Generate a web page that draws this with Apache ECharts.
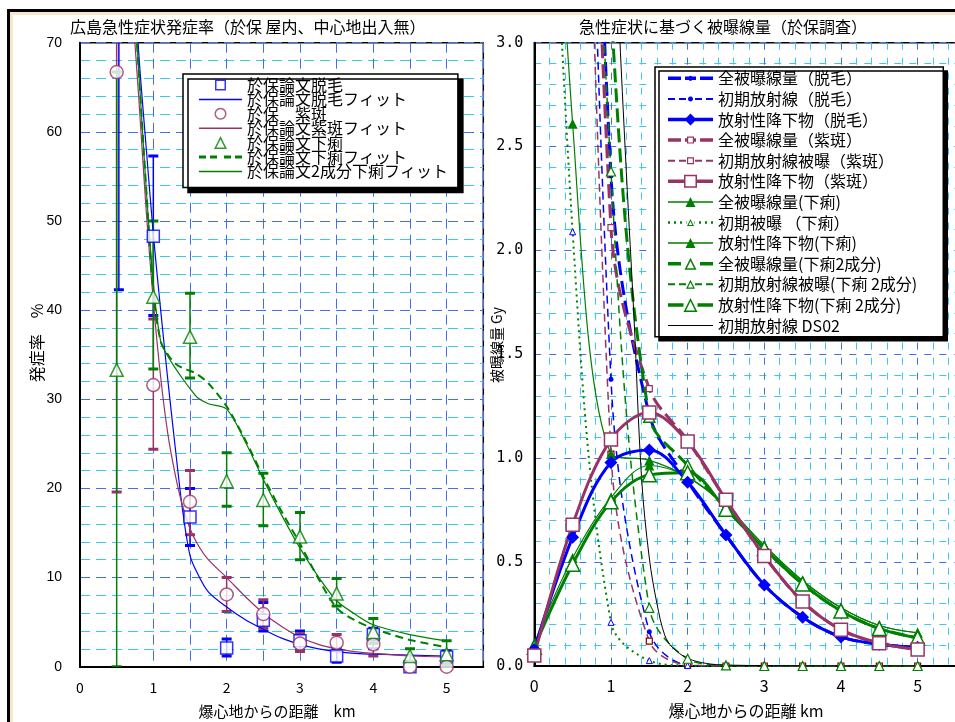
<!DOCTYPE html>
<html>
<head>
<meta charset="utf-8">
<script src="https://cdn.jsdelivr.net/npm/echarts@6/dist/echarts.min.js"></script>
<style>
html, body { margin: 0; padding: 0; background: #fff; }
#chart { width: 955px; height: 722px; }
</style>
</head>
<body>
<div id="chart"></div>
<script>
// ===== Left panel: incidence of acute symptoms (%) vs distance (km) =====
// Epilation (脱毛)
const hairX    = [0.53, 1.0, 1.5, 2.0, 2.5, 3.0, 3.5, 4.0, 4.5, 5.0];
const hairRate = [100, 48.3, 16.8, 2.1, 5.2, 2.9, 1.2, 3.6, 0, 1.1];
const hairLow  = [42.3, 39.4, 13.6, 1.2, 4.0, 1.8, 0.5, 2.0, null, 0.3];
const hairHigh = [100, 57.3, 20.0, 3.1, 7.2, 4.0, 2.0, 4.3, null, 1.8];
// Purpura (紫斑)
const purpX    = [0.5, 1.0, 1.5, 2.0, 2.5, 3.0, 3.5, 4.0, 4.5, 5.0];
const purpRate = [66.7, 31.6, 18.5, 8.1, 5.9, 2.6, 2.7, 2.5, 0, 0];
const purpLow  = [19.6, 24.4, 14.8, 6.2, 4.3, 1.7, 1.8, 1.2, null, null];
const purpHigh = [100, 39.0, 22.0, 10.0, 7.5, 3.7, 3.6, 3.0, null, null];
// Diarrhoea (下痢)
const diaX     = [0.5, 1.0, 1.5, 2.0, 2.5, 3.0, 3.5, 4.0, 4.5, 5.0];
const diaRate  = [33.3, 41.5, 37.0, 20.8, 18.7, 14.6, 8.2, 3.9, 1.2, 1.4];
const diaLow   = [0, 33.4, 32.4, 18.0, 15.8, 12.0, 6.8, 2.6, 0.6, 0.3];
const diaHigh  = [66.7, 50.0, 41.9, 24.0, 21.7, 17.3, 9.9, 5.4, 2.0, 2.9];
// fitted curves
const fitX     = [0.6, 0.7, 0.8, 0.9, 1.0, 1.1, 1.2, 1.3, 1.4, 1.5, 1.6, 1.75, 2.0, 2.25, 2.5, 2.75, 3.0, 3.25, 3.5, 3.75, 4.0, 4.5, 5.0];
const hairFit  = [96, 84, 69, 58.5, 48.5, 40, 32, 24.5, 17.5, 12.5, 10.5, 8.4, 6.7, 5.3, 4.2, 3.2, 2.5, 2.0, 1.7, 1.5, 1.4, 1.3, 1.2];
const purpFit  = [92, 76, 64, 51.5, 41, 32.5, 26, 21.5, 18, 15.5, 13.8, 12, 10, 7.9, 6.0, 4.5, 3.3, 2.5, 2.0, 1.7, 1.5, 1.2, 1.1];
const diaFit   = [99, 80, 67, 54, 42, 36.5, 35, 34, 33.5, 33.2, 32.8, 31.8, 29.2, 25.5, 21.3, 17.4, 13.8, 9.9, 6.6, 5.2, 4.3, 3.0, 2.2];
const dia2Fit  = [99, 80, 67, 54, 43, 36.5, 34.8, 33.5, 32.3, 31.2, 30.2, 29.5, 28.9, 25.3, 21.0, 17.0, 13.3, 10.1, 7.4, 5.9, 4.7, 3.6, 2.9];

// ===== Right panel: dose (Gy) estimated from symptoms =====
const doseX = [0, 0.5, 1.0, 1.5, 2.0, 2.5, 3.0, 3.5, 4.0, 4.5, 5.0];
const hairTotal   = [null, 8.2, 2.36, 1.21, 0.89, 0.63, 0.39, 0.235, 0.14, 0.105, 0.09];
const hairInit    = [null, 7.6, 1.38, 0.165, 0.005, 0, 0, 0, 0, 0, 0];
const hairFall    = [0.08, 0.62, 0.98, 1.04, 0.885, 0.63, 0.39, 0.235, 0.14, 0.105, 0.09];
const purpTotal   = [null, 7.9, 2.11, 1.335, 1.085, 0.80, 0.53, 0.31, 0.175, 0.11, 0.08];
const purpInit    = [null, 7.2, 1.02, 0.12, 0.005, 0, 0, 0, 0, 0, 0];
const purpFall    = [0.05, 0.68, 1.09, 1.22, 1.08, 0.80, 0.53, 0.31, 0.175, 0.11, 0.08];
const diaTotal    = [6.1, 2.61, 1.02, 0.99, 0.91, 0.77, 0.58, 0.41, 0.28, 0.195, 0.16];
const diaInit     = [6.0, 2.09, 0.21, 0.026, 0.002, 0, 0, 0, 0, 0, 0];
const diaFall     = [0.11, 0.52, 0.81, 0.965, 0.91, 0.77, 0.58, 0.41, 0.28, 0.195, 0.16];
const dia2Total   = [null, 7.3, 3.17, 1.20, 0.965, 0.76, 0.565, 0.395, 0.265, 0.18, 0.135];
const dia2Init    = [null, 6.8, 2.38, 0.28, 0.035, 0.003, 0, 0, 0, 0, 0];
const dia2Fall    = [0.09, 0.49, 0.79, 0.92, 0.93, 0.755, 0.565, 0.395, 0.265, 0.18, 0.135];
// DS02 initial radiation
const ds02X = [1.0, 1.1, 1.2, 1.3, 1.4, 1.5, 1.6, 1.7, 1.8, 2.0, 2.25, 2.5, 3.0, 4.0, 5.0];
const ds02Y = [4.1, 3.15, 2.38, 1.68, 0.9, 0.52, 0.3, 0.15, 0.09, 0.037, 0.012, 0.005, 0.002, 0, 0];

const JP = '"Noto Sans CJK JP", "Noto Sans CJK SC", sans-serif';
const BLUE = '#0000ff', PURP = '#993366', GREEN = '#008000';
const GRID_MAJOR = '#3f6ff0', GRID_MINOR = '#3cc8f5';

function pairs(xs, ys) {
  return xs.map((x, i) => [x, ys[i]]).filter(d => d[1] != null);
}

// ----- legend icon paths (outer shapes clockwise, holes counter-clockwise) -----
function rectCW(x0, y0, x1, y1) { return `M${x0} ${y0}L${x1} ${y0}L${x1} ${y1}L${x0} ${y1}Z`; }
function rectCCW(x0, y0, x1, y1) { return `M${x0} ${y0}L${x0} ${y1}L${x1} ${y1}L${x1} ${y0}Z`; }
function poly(pts) { return 'M' + pts.map(p => p[0].toFixed(2) + ' ' + p[1].toFixed(2)).join('L') + 'Z'; }
function circlePts(cx, cy, r, ccw) {
  const pts = [];
  for (let i = 0; i < 24; i++) {
    const a = (ccw ? -1 : 1) * i * Math.PI / 12;
    pts.push([cx + r * Math.cos(a), cy + r * Math.sin(a)]);
  }
  return pts;
}
function legendIcon(W, o) {
  const H = 14, cy = 7, cx = W / 2;
  let p = `M0 0M${W} ${H}`;
  if (o.t) {
    const lim = cx - (o.gap || 0);
    const segs = [];
    if (!o.dash) segs.push([0, lim]);
    else for (let s = 0; s < lim; s += o.dash[0] + o.dash[1]) segs.push([s, Math.min(s + o.dash[0], lim)]);
    segs.forEach(([a, b]) => {
      p += rectCW(a, cy - o.t / 2, b, cy + o.t / 2) + rectCW(W - b, cy - o.t / 2, W - a, cy + o.t / 2);
    });
  }
  const m = o.m;
  if (m) {
    const s = m.s, b = m.b;
    if (m.shape === 'dot') p += poly(circlePts(cx, cy, s));
    if (m.shape === 'dia') p += poly([[cx, cy - s], [cx + s, cy], [cx, cy + s], [cx - s, cy]]);
    if (m.shape === 'tri') {
      p += poly([[cx, cy - s], [cx + s, cy + s], [cx - s, cy + s]]);
      if (b) p += poly([[cx, cy - s + 2.236 * b], [cx - s + 1.618 * b, cy + s - b], [cx + s - 1.618 * b, cy + s - b]]);
    }
    if (m.shape === 'sq') {
      p += rectCW(cx - s, cy - s, cx + s, cy + s);
      if (b) p += rectCCW(cx - s + b, cy - s + b, cx + s - b, cy + s - b);
    }
    if (m.shape === 'circ') {
      p += poly(circlePts(cx, cy, s));
      if (b) p += poly(circlePts(cx, cy, s - b, true));
    }
  }
  return 'path://' + p;
}

// ----- error bars for the observed incidences -----
function errorBars(name, color, xs, lo, hi) {
  return {
    type: 'custom', name: name + '誤差', xAxisIndex: 0, yAxisIndex: 0, clip: true, z: 3,
    data: xs.map((x, i) => [x, lo[i], hi[i]]).filter(d => d[1] != null),
    encode: { x: 0, y: [1, 2] },
    renderItem: function (params, api) {
      const x = api.value(0);
      const a = api.coord([x, api.value(1)]);
      const b = api.coord([x, api.value(2)]);
      const w = 5;
      return {
        type: 'group',
        children: [
          { type: 'line', shape: { x1: a[0], y1: a[1], x2: b[0], y2: b[1] }, style: { stroke: color, lineWidth: 1.5 } },
          { type: 'line', shape: { x1: a[0] - w, y1: a[1], x2: a[0] + w, y2: a[1] }, style: { stroke: color, lineWidth: 3 } },
          { type: 'line', shape: { x1: b[0] - w, y1: b[1], x2: b[0] + w, y2: b[1] }, style: { stroke: color, lineWidth: 3 } }
        ]
      };
    }
  };
}

function obsSeries(name, symbol, size, color, xs, ys) {
  return {
    type: 'scatter', name: name, xAxisIndex: 0, yAxisIndex: 0, z: 4,
    symbol: symbol, symbolSize: size,
    itemStyle: { color: '#fff', borderColor: color, borderWidth: 1.5 },
    data: pairs(xs, ys)
  };
}
function fitSeries(name, color, width, type, ys) {
  return {
    type: 'line', name: name, xAxisIndex: 0, yAxisIndex: 0, z: 3,
    showSymbol: false, symbol: 'none', smooth: 0.3, clip: true,
    itemStyle: { color: color },
    lineStyle: { color: color, width: width, type: type },
    data: pairs(fitX, ys)
  };
}
function doseSeries(name, o) {
  return {
    type: 'line', name: name, xAxisIndex: 1, yAxisIndex: 1, clip: true,
    smooth: 0.35, showAllSymbol: true,
    symbol: o.symbol || 'none', symbolSize: o.size || 0,
    itemStyle: { color: o.fill || o.color, borderColor: o.border || o.color, borderWidth: o.bw || 0 },
    lineStyle: { color: o.color, width: o.width, type: o.type || 'solid' },
    data: pairs(o.x || doseX, o.y)
  };
}

const axisText = { fontFamily: JP, fontSize: 14, color: '#000' };
const dashMajor = { color: GRID_MAJOR, width: 1, type: [10, 6] };
const dashMinor = { color: GRID_MINOR, width: 1, type: [10, 6] };
const intLabel = v => (Math.abs(v - Math.round(v)) < 1e-6 && v < 5.01 ? String(Math.round(v)) : '');

const leftLegend = [
  { name: '於保論文脱毛', icon: legendIcon(43, { m: { shape: 'sq', s: 5.5, b: 1.5 } }), itemStyle: { color: BLUE } },
  { name: '於保論文脱毛フィット', icon: legendIcon(43, { t: 1.5 }), itemStyle: { color: BLUE } },
  { name: '於保　紫斑', icon: legendIcon(43, { m: { shape: 'circ', s: 6, b: 1.5 } }), itemStyle: { color: PURP } },
  { name: '於保論文紫斑フィット', icon: legendIcon(43, { t: 1.5 }), itemStyle: { color: PURP } },
  { name: '於保論文下痢', icon: legendIcon(43, { m: { shape: 'tri', s: 6.5, b: 1.5 } }), itemStyle: { color: GREEN } },
  { name: '於保論文下痢フィット', icon: legendIcon(43, { t: 3, dash: [7, 4] }), itemStyle: { color: GREEN } },
  { name: '於保論文2成分下痢フィット', icon: legendIcon(43, { t: 1.5 }), itemStyle: { color: GREEN } }
];
const rightLegend = [
  { name: '全被曝線量（脱毛）', icon: legendIcon(45, { t: 3.5, dash: [13, 4], m: { shape: 'dot', s: 2.5 } }), itemStyle: { color: BLUE } },
  { name: '初期放射線（脱毛）', icon: legendIcon(45, { t: 2, dash: [7, 4], m: { shape: 'dot', s: 2.5 } }), itemStyle: { color: BLUE } },
  { name: '放射性降下物（脱毛）', icon: legendIcon(45, { t: 3.5, m: { shape: 'dia', s: 6 } }), itemStyle: { color: BLUE } },
  { name: '全被曝線量（紫斑）', icon: legendIcon(45, { t: 3.5, dash: [13, 4], gap: 3.5, m: { shape: 'sq', s: 3.5, b: 1.2 } }), itemStyle: { color: PURP } },
  { name: '初期放射線被曝（紫斑）', icon: legendIcon(45, { t: 2, dash: [7, 4], gap: 3.5, m: { shape: 'sq', s: 3.5, b: 1.2 } }), itemStyle: { color: PURP } },
  { name: '放射性降下物（紫斑）', icon: legendIcon(45, { t: 3.5, gap: 6.5, m: { shape: 'sq', s: 6.5, b: 1.5 } }), itemStyle: { color: PURP } },
  { name: '全被曝線量(下痢)', icon: legendIcon(45, { t: 1.5, m: { shape: 'tri', s: 5 } }), itemStyle: { color: GREEN } },
  { name: '初期被曝 （下痢）', icon: legendIcon(45, { t: 2.5, dash: [2, 4], gap: 4, m: { shape: 'tri', s: 3.5, b: 1 } }), itemStyle: { color: GREEN } },
  { name: '放射性降下物(下痢)', icon: legendIcon(45, { t: 1.5, m: { shape: 'tri', s: 5 } }), itemStyle: { color: GREEN } },
  { name: '全被曝線量(下痢2成分)', icon: legendIcon(45, { t: 3.5, dash: [13, 4], gap: 6, m: { shape: 'tri', s: 6, b: 1.5 } }), itemStyle: { color: GREEN } },
  { name: '初期放射線被曝(下痢 2成分)', icon: legendIcon(45, { t: 2, dash: [7, 4], gap: 4.5, m: { shape: 'tri', s: 4.5, b: 1.2 } }), itemStyle: { color: GREEN } },
  { name: '放射性降下物(下痢 2成分)', icon: legendIcon(45, { t: 3.5, gap: 7, m: { shape: 'tri', s: 7, b: 1.5 } }), itemStyle: { color: GREEN } },
  { name: '初期放射線 DS02', icon: legendIcon(45, { t: 1.2 }), itemStyle: { color: '#000' } }
];

const option = {
  animation: false,
  backgroundColor: '#fff',
  title: [
    { text: '広島急性症状発症率（於保 屋内、中心地出入無）', left: 70, top: 19, padding: 0,
      textStyle: { fontFamily: JP, fontSize: 16, fontWeight: 'normal', color: '#000' } },
    { text: '急性症状に基づく被曝線量（於保調査）', left: 579, top: 19, padding: 0,
      textStyle: { fontFamily: JP, fontSize: 16, fontWeight: 'normal', color: '#000' } }
  ],
  legend: [
    {
      orient: 'vertical', left: 183, top: 74, padding: [3, 10, 8, 16],
      itemWidth: 43, itemHeight: 14, itemGap: -1.6, symbolKeepAspect: true,
      backgroundColor: '#fff', borderColor: '#000', borderWidth: 1.5,
      shadowColor: '#000', shadowOffsetX: 5, shadowOffsetY: 5, shadowBlur: 0,
      itemStyle: { borderWidth: 0 }, selectedMode: false,
      textStyle: { fontFamily: JP, fontSize: 16, color: '#000' },
      data: leftLegend
    },
    {
      orient: 'vertical', left: 655, top: 67, padding: [1, 26, 1, 13],
      itemWidth: 45, itemHeight: 14, itemGap: 0, symbolKeepAspect: true,
      backgroundColor: '#fff', borderColor: '#000', borderWidth: 1.5,
      shadowColor: '#000', shadowOffsetX: 4, shadowOffsetY: 4, shadowBlur: 0,
      itemStyle: { borderWidth: 0 }, selectedMode: false,
      textStyle: { fontFamily: JP, fontSize: 16, color: '#000', lineHeight: 20.6 },
      data: rightLegend
    }
  ],
  grid: [
    { left: 80, top: 42.7, width: 403.3, height: 624, outerBoundsMode: 'none', show: true, borderColor: '#000', borderWidth: 1.5, backgroundColor: 'transparent' },
    { left: 534.3, top: 42.7, width: 460, height: 623.3, outerBoundsMode: 'none', show: true, borderColor: '#000', borderWidth: 1.5, backgroundColor: 'transparent' }
  ],
  xAxis: [
    {
      gridIndex: 0, type: 'value', min: 0, max: 5.5, interval: 0.5,
      axisLine: { lineStyle: { color: '#000', width: 2 } }, axisTick: { show: false },
      axisLabel: Object.assign({ margin: 14, formatter: intLabel }, axisText),
      splitLine: { show: true, lineStyle: dashMajor }
    },
    {
      gridIndex: 1, type: 'value', min: 0, max: 6, interval: 1,
      axisLine: { lineStyle: { color: '#000', width: 2 } }, axisTick: { show: false },
      axisLabel: Object.assign({}, axisText, { margin: 12, fontSize: 16, formatter: intLabel }),
      minorTick: { show: false, splitNumber: 5 },
      splitLine: { show: true, lineStyle: { color: GRID_MAJOR, width: 1, type: [7, 8] } },
      minorSplitLine: { show: true, lineStyle: { color: GRID_MINOR, width: 1, type: [7, 8] } }
    }
  ],
  yAxis: [
    {
      gridIndex: 0, type: 'value', min: 0, max: 70, interval: 10,
      axisLine: { show: true, lineStyle: { color: '#000', width: 2 } }, axisTick: { show: false },
      axisLabel: { margin: 18, fontFamily: '"Liberation Sans", Arial, sans-serif', fontSize: 14, color: '#000' },
      minorTick: { show: false, splitNumber: 5 },
      splitLine: { show: true, lineStyle: dashMajor },
      minorSplitLine: { show: true, lineStyle: dashMinor }
    },
    {
      gridIndex: 1, type: 'value', min: 0, max: 3, interval: 0.5,
      axisLine: { show: true, lineStyle: { color: '#000', width: 2 } }, axisTick: { show: false },
      axisLabel: { margin: 11, fontFamily: '"DejaVu Sans Mono", monospace', fontSize: 15, color: '#000', formatter: v => v.toFixed(1) },
      minorTick: { show: false, splitNumber: 5 },
      splitLine: { show: true, lineStyle: { color: GRID_MAJOR, width: 1, type: [7, 8] } },
      minorSplitLine: { show: true, lineStyle: { color: GRID_MINOR, width: 1, type: [7, 8] } }
    }
  ],
  graphic: [
    { type: 'rect', silent: true, shape: { x: 8.5, y: 10.5, width: 960, height: 730 }, style: { fill: 'none', stroke: '#000', lineWidth: 3 } },
    { type: 'rect', silent: true, shape: { x: 11.5, y: 13.5, width: 960, height: 730 }, style: { fill: 'none', stroke: '#f6e8cf', lineWidth: 3 } },
    // axis names
    { type: 'text', silent: true, x: 37, y: 343, rotation: Math.PI / 2,
      style: { text: '発症率　%', font: '16px ' + JP, fill: '#000', align: 'center', verticalAlign: 'middle' } },
    { type: 'text', silent: true, x: 497, y: 345, rotation: Math.PI / 2,
      style: { text: '被曝線量 Gy', font: '14px ' + JP, fill: '#000', align: 'center', verticalAlign: 'middle' } },
    { type: 'text', silent: true, x: 277, y: 711,
      style: { text: '爆心地からの距離　km', font: '15px ' + JP, fill: '#000', align: 'center', verticalAlign: 'middle' } },
    { type: 'text', silent: true, x: 746, y: 711,
      style: { text: '爆心地からの距離 km', font: '16px ' + JP, fill: '#000', align: 'center', verticalAlign: 'middle' } }
  ],
  series: [
    // left panel
    errorBars('於保論文脱毛', BLUE, hairX, hairLow, hairHigh),
    errorBars('於保　紫斑', PURP, purpX, purpLow, purpHigh),
    errorBars('於保論文下痢', GREEN, diaX, diaLow, diaHigh),
    fitSeries('於保論文脱毛フィット', BLUE, 1.2, 'solid', hairFit),
    fitSeries('於保論文紫斑フィット', PURP, 1.2, 'solid', purpFit),
    fitSeries('於保論文下痢フィット', GREEN, 2, [8, 5], diaFit),
    fitSeries('於保論文2成分下痢フィット', GREEN, 1.2, 'solid', dia2Fit),
    obsSeries('於保論文脱毛', 'rect', 12, BLUE, hairX, hairRate),
    obsSeries('於保　紫斑', 'circle', 13, PURP, purpX, purpRate),
    obsSeries('於保論文下痢', 'triangle', 13, GREEN, diaX, diaRate),
    // right panel
    doseSeries('全被曝線量（脱毛）', { color: BLUE, width: 3, type: [14, 6], symbol: 'circle', size: 5, fill: '#000080', border: '#000080', y: hairTotal }),
    doseSeries('初期放射線（脱毛）', { color: BLUE, width: 1.5, type: [8, 5], symbol: 'circle', size: 5, fill: BLUE, border: BLUE, y: hairInit }),
    doseSeries('全被曝線量（紫斑）', { color: PURP, width: 3, type: [14, 6], symbol: 'rect', size: 6, fill: '#fff', border: PURP, bw: 1.2, y: purpTotal }),
    doseSeries('初期放射線被曝（紫斑）', { color: PURP, width: 1.5, type: [8, 5], symbol: 'rect', size: 6, fill: '#fff', border: '#800000', bw: 1.2, y: purpInit }),
    doseSeries('初期被曝 （下痢）', { color: GREEN, width: 2, type: [2, 4], symbol: 'triangle', size: 6, fill: '#fff', border: BLUE, bw: 1, y: diaInit }),
    doseSeries('全被曝線量(下痢)', { color: GREEN, width: 1.2, symbol: 'triangle', size: 10, fill: GREEN, border: GREEN, y: diaTotal }),
    doseSeries('全被曝線量(下痢2成分)', { color: GREEN, width: 3, type: [14, 6], symbol: 'triangle', size: 11, fill: '#fff', border: GREEN, bw: 1.5, y: dia2Total }),
    doseSeries('初期放射線被曝(下痢 2成分)', { color: GREEN, width: 1.5, type: [8, 5], symbol: 'triangle', size: 9, fill: '#fff', border: GREEN, bw: 1.2, y: dia2Init }),
    doseSeries('初期放射線 DS02', { color: '#000', width: 1, x: ds02X, y: ds02Y }),
    doseSeries('放射性降下物(下痢)', { color: GREEN, width: 1.2, symbol: 'triangle', size: 10, fill: GREEN, border: GREEN, y: diaFall }),
    doseSeries('放射性降下物(下痢 2成分)', { color: GREEN, width: 3, symbol: 'triangle', size: 14, fill: '#fff', border: GREEN, bw: 1.5, y: dia2Fall }),
    doseSeries('放射性降下物（脱毛）', { color: BLUE, width: 3, symbol: 'diamond', size: 13, fill: BLUE, border: BLUE, y: hairFall }),
    doseSeries('放射性降下物（紫斑）', { color: PURP, width: 3, symbol: 'rect', size: 13, fill: '#fff', border: PURP, bw: 1.5, y: purpFall })
  ]
};

const chart = echarts.init(document.getElementById('chart'), null, { renderer: 'canvas' });
chart.setOption(option);
</script>
</body>
</html>
